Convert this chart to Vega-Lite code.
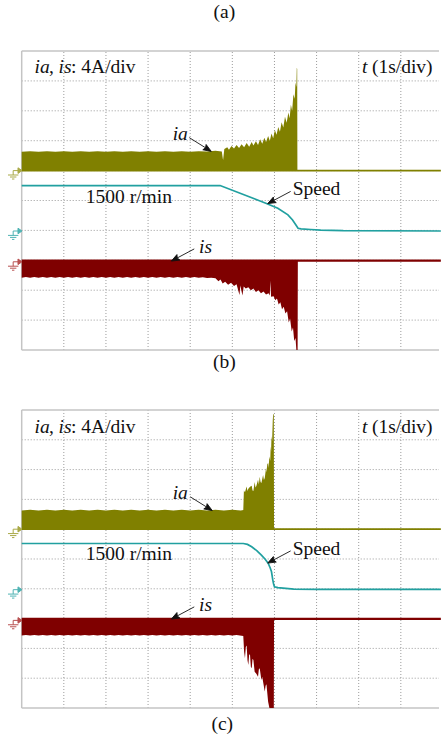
{
"$schema": "https://vega.github.io/schema/vega-lite/v6.json",
"width": 445, "height": 738,
"autosize": {"type": "fit", "contains": "padding"},
"padding": 0,
"background": "white",
"config": {"view": {"stroke": null}},
"datasets": {
"grid_t": [{"t":1},{"t":2},{"t":3},{"t":4},{"t":5},{"t":6},{"t":7},{"t":8},{"t":9}],
"grid_v": [{"v":-4},{"v":-3},{"v":-2},{"v":-1},{"v":0},{"v":1},{"v":2},{"v":3},{"v":4}],
"frame_v": [{"v":-5},{"v":5}],
"b_ia": [{"t":0,"v":1.63},{"t":0.2,"v":1.65},{"t":0.4,"v":1.63},{"t":0.6,"v":1.65},{"t":0.8,"v":1.63},{"t":1.0,"v":1.65},{"t":1.2,"v":1.63},{"t":1.4,"v":1.65},{"t":1.6,"v":1.63},{"t":1.8,"v":1.65},{"t":2.0,"v":1.63},{"t":2.2,"v":1.65},{"t":2.4,"v":1.63},{"t":2.6,"v":1.65},{"t":2.8,"v":1.63},{"t":3.0,"v":1.65},{"t":3.2,"v":1.63},{"t":3.4,"v":1.65},{"t":3.6,"v":1.63},{"t":3.8,"v":1.65},{"t":4.0,"v":1.63},{"t":4.2,"v":1.65},{"t":4.4,"v":1.64},{"t":4.6,"v":1.66},{"t":4.75,"v":1.64},{"t":4.78,"v":1.35},{"t":4.81,"v":1.72},{"t":4.88,"v":1.78},{"t":4.92,"v":1.70},{"t":4.98,"v":1.82},{"t":5.04,"v":1.74},{"t":5.10,"v":1.86},{"t":5.16,"v":1.76},{"t":5.22,"v":1.88},{"t":5.28,"v":1.78},{"t":5.34,"v":1.92},{"t":5.40,"v":1.80},{"t":5.46,"v":1.96},{"t":5.50,"v":1.84},{"t":5.56,"v":1.98},{"t":5.61,"v":1.86},{"t":5.66,"v":2.05},{"t":5.71,"v":1.90},{"t":5.76,"v":2.10},{"t":5.80,"v":1.96},{"t":5.85,"v":2.16},{"t":5.89,"v":2.00},{"t":5.93,"v":2.24},{"t":5.97,"v":2.08},{"t":6.01,"v":2.36},{"t":6.05,"v":2.20},{"t":6.09,"v":2.46},{"t":6.13,"v":2.30},{"t":6.17,"v":2.62},{"t":6.21,"v":2.44},{"t":6.25,"v":2.80},{"t":6.29,"v":2.60},{"t":6.33,"v":2.94},{"t":6.36,"v":2.75},{"t":6.39,"v":3.20},{"t":6.42,"v":3.00},{"t":6.45,"v":3.55},{"t":6.48,"v":3.40},{"t":6.50,"v":3.95},{"t":6.52,"v":3.80},{"t":6.53,"v":4.44},{"t":6.54,"v":4.40},{"t":6.545,"v":1.03},{"t":9.95,"v":1.03}],
"b_is": [{"t":0,"v":-2.58},{"t":0.1,"v":-2.56},{"t":0.2,"v":-2.58},{"t":0.3,"v":-2.56},{"t":0.4,"v":-2.58},{"t":0.5,"v":-2.56},{"t":0.6,"v":-2.58},{"t":0.7,"v":-2.56},{"t":0.8,"v":-2.58},{"t":0.9,"v":-2.56},{"t":1.0,"v":-2.58},{"t":1.1,"v":-2.56},{"t":1.2,"v":-2.58},{"t":1.3,"v":-2.56},{"t":1.4,"v":-2.58},{"t":1.5,"v":-2.56},{"t":1.6,"v":-2.58},{"t":1.7,"v":-2.56},{"t":1.8,"v":-2.58},{"t":1.9,"v":-2.56},{"t":2.0,"v":-2.58},{"t":2.1,"v":-2.56},{"t":2.2,"v":-2.58},{"t":2.3,"v":-2.56},{"t":2.4,"v":-2.58},{"t":2.5,"v":-2.56},{"t":2.6,"v":-2.58},{"t":2.7,"v":-2.56},{"t":2.8,"v":-2.58},{"t":2.9,"v":-2.56},{"t":3.0,"v":-2.58},{"t":3.1,"v":-2.56},{"t":3.2,"v":-2.58},{"t":3.3,"v":-2.56},{"t":3.4,"v":-2.58},{"t":3.5,"v":-2.56},{"t":3.6,"v":-2.58},{"t":3.7,"v":-2.56},{"t":3.8,"v":-2.58},{"t":3.9,"v":-2.56},{"t":4.0,"v":-2.58},{"t":4.1,"v":-2.56},{"t":4.2,"v":-2.58},{"t":4.3,"v":-2.57},{"t":4.4,"v":-2.59},{"t":4.5,"v":-2.58},{"t":4.6,"v":-2.6},{"t":4.67,"v":-2.7},{"t":4.72,"v":-2.64},{"t":4.77,"v":-2.78},{"t":4.83,"v":-2.72},{"t":4.9,"v":-2.82},{"t":4.97,"v":-2.75},{"t":5.04,"v":-2.86},{"t":5.1,"v":-2.8},{"t":5.17,"v":-3.16},{"t":5.19,"v":-2.84},{"t":5.24,"v":-3.18},{"t":5.27,"v":-2.88},{"t":5.32,"v":-2.94},{"t":5.38,"v":-2.9},{"t":5.44,"v":-3.0},{"t":5.5,"v":-2.94},{"t":5.56,"v":-3.06},{"t":5.62,"v":-3.0},{"t":5.68,"v":-3.1},{"t":5.74,"v":-3.04},{"t":5.8,"v":-3.14},{"t":5.86,"v":-3.1},{"t":5.89,"v":-3.18},{"t":5.9,"v":-2.68},{"t":5.92,"v":-3.22},{"t":5.98,"v":-3.2},{"t":6.02,"v":-3.34},{"t":6.06,"v":-3.28},{"t":6.1,"v":-3.48},{"t":6.14,"v":-3.4},{"t":6.18,"v":-3.64},{"t":6.22,"v":-3.55},{"t":6.26,"v":-3.78},{"t":6.3,"v":-3.7},{"t":6.34,"v":-4.08},{"t":6.37,"v":-3.95},{"t":6.41,"v":-4.38},{"t":6.44,"v":-4.25},{"t":6.47,"v":-4.7},{"t":6.5,"v":-4.6},{"t":6.52,"v":-5.0},{"t":6.55,"v":-5.0},{"t":6.555,"v":-2.05},{"t":9.95,"v":-2.05}],
"b_sp": [{"t":0,"v":0.5},{"t":4.71,"v":0.5},{"t":5.81,"v":-0.1},{"t":6.08,"v":-0.26},{"t":6.32,"v":-0.48},{"t":6.43,"v":-0.65},{"t":6.51,"v":-0.82},{"t":6.56,"v":-0.93},{"t":6.63,"v":-0.95},{"t":6.86,"v":-0.97},{"t":7.1,"v":-0.99},{"t":7.63,"v":-1.01},{"t":9.95,"v":-1.02}],
"c_ia": [{"t":0,"v":1.63},{"t":0.2,"v":1.65},{"t":0.4,"v":1.63},{"t":0.6,"v":1.65},{"t":0.8,"v":1.63},{"t":1.0,"v":1.65},{"t":1.2,"v":1.63},{"t":1.4,"v":1.65},{"t":1.6,"v":1.63},{"t":1.8,"v":1.65},{"t":2.0,"v":1.63},{"t":2.2,"v":1.65},{"t":2.4,"v":1.63},{"t":2.6,"v":1.65},{"t":2.8,"v":1.63},{"t":3.0,"v":1.65},{"t":3.2,"v":1.63},{"t":3.4,"v":1.65},{"t":3.6,"v":1.63},{"t":3.8,"v":1.65},{"t":4.0,"v":1.63},{"t":4.2,"v":1.65},{"t":4.4,"v":1.63},{"t":4.6,"v":1.65},{"t":4.8,"v":1.63},{"t":5.0,"v":1.65},{"t":5.2,"v":1.63},{"t":5.26,"v":1.64},{"t":5.275,"v":2.3},{"t":5.3,"v":2.24},{"t":5.34,"v":2.43},{"t":5.36,"v":2.28},{"t":5.38,"v":2.36},{"t":5.42,"v":2.42},{"t":5.46,"v":2.46},{"t":5.48,"v":2.3},{"t":5.5,"v":2.28},{"t":5.53,"v":2.58},{"t":5.55,"v":2.4},{"t":5.57,"v":2.45},{"t":5.61,"v":2.66},{"t":5.63,"v":2.5},{"t":5.65,"v":2.76},{"t":5.67,"v":2.58},{"t":5.69,"v":2.55},{"t":5.73,"v":2.82},{"t":5.75,"v":2.65},{"t":5.77,"v":2.72},{"t":5.8,"v":3.05},{"t":5.81,"v":2.9},{"t":5.83,"v":3.18},{"t":5.85,"v":3.22},{"t":5.86,"v":3.05},{"t":5.88,"v":3.44},{"t":5.9,"v":3.3},{"t":5.91,"v":3.78},{"t":5.92,"v":3.6},{"t":5.93,"v":4.12},{"t":5.945,"v":3.95},{"t":5.96,"v":4.66},{"t":5.97,"v":4.86},{"t":5.985,"v":4.86},{"t":5.99,"v":1.03},{"t":9.95,"v":1.03}],
"c_is": [{"t":0,"v":-2.57},{"t":0.1,"v":-2.55},{"t":0.2,"v":-2.57},{"t":0.3,"v":-2.55},{"t":0.4,"v":-2.57},{"t":0.5,"v":-2.55},{"t":0.6,"v":-2.57},{"t":0.7,"v":-2.55},{"t":0.8,"v":-2.57},{"t":0.9,"v":-2.55},{"t":1.0,"v":-2.57},{"t":1.1,"v":-2.55},{"t":1.2,"v":-2.57},{"t":1.3,"v":-2.55},{"t":1.4,"v":-2.57},{"t":1.5,"v":-2.55},{"t":1.6,"v":-2.57},{"t":1.7,"v":-2.55},{"t":1.8,"v":-2.57},{"t":1.9,"v":-2.55},{"t":2.0,"v":-2.57},{"t":2.1,"v":-2.55},{"t":2.2,"v":-2.57},{"t":2.3,"v":-2.55},{"t":2.4,"v":-2.57},{"t":2.5,"v":-2.55},{"t":2.6,"v":-2.57},{"t":2.7,"v":-2.55},{"t":2.8,"v":-2.57},{"t":2.9,"v":-2.55},{"t":3.0,"v":-2.57},{"t":3.1,"v":-2.55},{"t":3.2,"v":-2.57},{"t":3.3,"v":-2.55},{"t":3.4,"v":-2.57},{"t":3.5,"v":-2.55},{"t":3.6,"v":-2.57},{"t":3.7,"v":-2.55},{"t":3.8,"v":-2.57},{"t":3.9,"v":-2.55},{"t":4.0,"v":-2.57},{"t":4.1,"v":-2.55},{"t":4.2,"v":-2.57},{"t":4.3,"v":-2.55},{"t":4.4,"v":-2.57},{"t":4.5,"v":-2.55},{"t":4.6,"v":-2.57},{"t":4.7,"v":-2.55},{"t":4.8,"v":-2.57},{"t":4.9,"v":-2.55},{"t":5.0,"v":-2.57},{"t":5.1,"v":-2.55},{"t":5.26,"v":-2.58},{"t":5.28,"v":-3.11},{"t":5.3,"v":-3.33},{"t":5.32,"v":-2.95},{"t":5.34,"v":-2.9},{"t":5.36,"v":-3.4},{"t":5.38,"v":-3.56},{"t":5.4,"v":-3.2},{"t":5.42,"v":-3.22},{"t":5.44,"v":-3.62},{"t":5.46,"v":-3.67},{"t":5.48,"v":-3.35},{"t":5.5,"v":-3.39},{"t":5.53,"v":-3.78},{"t":5.57,"v":-3.85},{"t":5.61,"v":-3.95},{"t":5.63,"v":-3.7},{"t":5.65,"v":-3.67},{"t":5.69,"v":-4.06},{"t":5.71,"v":-3.95},{"t":5.73,"v":-4.12},{"t":5.77,"v":-4.45},{"t":5.79,"v":-4.25},{"t":5.81,"v":-4.2},{"t":5.85,"v":-4.79},{"t":5.88,"v":-5.0},{"t":5.985,"v":-5.0},{"t":5.99,"v":-2.05},{"t":9.95,"v":-2.05}],
"c_sp": [{"t":0,"v":0.52},{"t":5.26,"v":0.52},{"t":5.36,"v":0.49},{"t":5.46,"v":0.41},{"t":5.58,"v":0.28},{"t":5.69,"v":0.13},{"t":5.78,"v":-0.01},{"t":5.85,"v":-0.14},{"t":5.9,"v":-0.3},{"t":5.93,"v":-0.43},{"t":5.96,"v":-0.7},{"t":5.98,"v":-0.84},{"t":6.0,"v":-0.93},{"t":6.08,"v":-0.96},{"t":6.46,"v":-1.01},{"t":7.02,"v":-1.02},{"t":9.95,"v":-1.02}],
"gnd_b": [{"sig":"ia","v":1.0},{"sig":"speed","v":-1.02},{"sig":"is","v":-2.05}],
"gnd_c": [{"sig":"ia","v":1.0},{"sig":"speed","v":-1.03},{"sig":"is","v":-2.06}],
"it_b": [{"t":0.304,"v":4.264,"text":"ia"},{"t":0.874,"v":4.264,"text":"is"},{"t":8.08,"v":4.264,"text":"t"},{"t":3.583,"v":2.023,"text":"ia"},{"t":4.208,"v":-1.766,"text":"is"}],
"rm_b": [{"t":0.651,"v":4.264,"text":","},{"t":1.171,"v":4.264,"text":": 4A/div"},{"t":8.314,"v":4.264,"text":"(1s/div)"},{"t":1.522,"v":-0.084,"text":"1500 r/min"},{"t":6.433,"v":0.184,"text":"Speed"}],
"it_c": [{"t":0.304,"v":4.238,"text":"ia"},{"t":0.874,"v":4.238,"text":"is"},{"t":8.08,"v":4.238,"text":"t"},{"t":3.583,"v":2.013,"text":"ia"},{"t":4.208,"v":-1.745,"text":"is"}],
"rm_c": [{"t":0.651,"v":4.238,"text":","},{"t":1.171,"v":4.238,"text":": 4A/div"},{"t":8.314,"v":4.238,"text":"(1s/div)"},{"t":1.522,"v":-0.034,"text":"1500 r/min"},{"t":6.433,"v":0.134,"text":"Speed"}],
"lab_b": [{"t":4.813,"v":6.304,"text":"(a)"},{"t":4.813,"v":-5.385,"text":"(b)"}],
"lab_c": [{"t":4.76,"v":-5.537,"text":"(c)"}],
"ar_b_r": [{"t":4.239,"v":1.873}],
"ar_b_l": [{"t":6.112,"v":0.1},{"t":3.824,"v":-1.823}],
"ar_c_r": [{"t":4.262,"v":1.856}],
"ar_c_l": [{"t":6.112,"v":0.067},{"t":3.824,"v":-1.812}]
},
"resolve": {"scale": {"y": "independent"}},
"layer": [
{
"layer": [
{"data": {"name": "grid_t"}, "mark": {"type": "rule", "color": "#9a9a9a", "strokeWidth": 1, "strokeDash": [1, 2]}, "encoding": {"x": {"field": "t", "type": "quantitative", "scale": {"domain": [-0.515, 9.906], "nice": false, "zero": false}, "axis": null}, "y": {"datum": -5, "type": "quantitative", "scale": {"domain": [-17.977, 6.706], "nice": false, "zero": false}, "axis": null}, "y2": {"datum": 5}}},
{"data": {"name": "grid_v"}, "mark": {"type": "rule", "color": "#9a9a9a", "strokeWidth": 1, "strokeDash": [1, 2]}, "encoding": {"x": {"datum": 0, "type": "quantitative"}, "x2": {"datum": 9.906}, "y": {"field": "v", "type": "quantitative"}}},
{"data": {"name": "frame_v"}, "mark": {"type": "rule", "color": "#c4c4c4", "strokeWidth": 1.5}, "encoding": {"x": {"datum": 0, "type": "quantitative"}, "x2": {"datum": 9.906}, "y": {"field": "v", "type": "quantitative"}}},
{"data": {"name": "lab_c"}, "mark": {"type": "rule", "color": "#c4c4c4", "strokeWidth": 1.5}, "encoding": {"x": {"datum": 0, "type": "quantitative"}, "y": {"datum": -5, "type": "quantitative"}, "y2": {"datum": 5}}},
{"data": {"name": "b_ia"}, "mark": {"type": "area", "color": "#808000"}, "encoding": {"x": {"field": "t", "type": "quantitative"}, "y": {"field": "v", "type": "quantitative"}, "y2": {"datum": 0.97}}},
{"data": {"name": "b_is"}, "mark": {"type": "area", "color": "#7f0000"}, "encoding": {"x": {"field": "t", "type": "quantitative"}, "y": {"field": "v", "type": "quantitative"}, "y2": {"datum": -1.97}}},
{"data": {"name": "b_sp"}, "mark": {"type": "line", "color": "#21a0a0", "strokeWidth": 1.7}, "encoding": {"x": {"field": "t", "type": "quantitative"}, "y": {"field": "v", "type": "quantitative"}}},
{"data": {"name": "gnd_b"}, "mark": {"type": "point", "shape": "M-0.2,0L0.55,0M0.4,-0.35L0.9,0L0.4,0.35ZM-0.2,0L-0.2,0.55M-0.85,0.55L0.45,0.55M-0.6,0.8L0.2,0.8M-0.35,1.05L-0.05,1.05", "size": 256, "filled": true, "strokeWidth": 1, "opacity": 1},
 "encoding": {"x": {"datum": -0.164, "type": "quantitative"}, "y": {"field": "v", "type": "quantitative"},
  "fill": {"field": "sig", "type": "nominal", "scale": {"domain": ["ia", "speed", "is"], "range": ["#a9a946", "#4fb3b3", "#b85050"]}, "legend": null},
  "stroke": {"field": "sig", "type": "nominal", "scale": {"domain": ["ia", "speed", "is"], "range": ["#a9a946", "#4fb3b3", "#b85050"]}, "legend": null}}},
{"data": {"name": "ar_b_r"}, "mark": {"type": "point", "shape": "M-1,0L0.5,0M1,0L0.38,-0.24L0.48,0L0.38,0.24Z", "size": 676, "angle": 32, "filled": true, "color": "#111", "stroke": "#111", "strokeWidth": 0.8, "opacity": 1}, "encoding": {"x": {"field": "t", "type": "quantitative"}, "y": {"field": "v", "type": "quantitative"}}},
{"data": {"name": "ar_b_l"}, "mark": {"type": "point", "shape": "M-1,0L0.5,0M1,0L0.38,-0.24L0.48,0L0.38,0.24Z", "size": 676, "angle": 152, "filled": true, "color": "#111", "stroke": "#111", "strokeWidth": 0.8, "opacity": 1}, "encoding": {"x": {"field": "t", "type": "quantitative"}, "y": {"field": "v", "type": "quantitative"}}},
{"data": {"name": "it_b"}, "mark": {"type": "text", "align": "left", "baseline": "alphabetic", "fontStyle": "italic", "font": "Times New Roman, Liberation Serif, serif", "fontSize": 19.5, "color": "#111"}, "encoding": {"x": {"field": "t", "type": "quantitative"}, "y": {"field": "v", "type": "quantitative"}, "text": {"field": "text"}}},
{"data": {"name": "rm_b"}, "mark": {"type": "text", "align": "left", "baseline": "alphabetic", "font": "Times New Roman, Liberation Serif, serif", "fontSize": 19.5, "color": "#111"}, "encoding": {"x": {"field": "t", "type": "quantitative"}, "y": {"field": "v", "type": "quantitative"}, "text": {"field": "text"}}},
{"data": {"name": "lab_b"}, "mark": {"type": "text", "align": "center", "baseline": "middle", "font": "Times New Roman, Liberation Serif, serif", "fontSize": 19.5, "color": "#111"}, "encoding": {"x": {"field": "t", "type": "quantitative"}, "y": {"field": "v", "type": "quantitative"}, "text": {"field": "text"}}}
]
},
{
"layer": [
{"data": {"name": "grid_t"}, "mark": {"type": "rule", "color": "#9a9a9a", "strokeWidth": 1, "strokeDash": [1, 2]}, "encoding": {"x": {"field": "t", "type": "quantitative", "scale": {"domain": [-0.515, 9.906], "nice": false, "zero": false}, "axis": null}, "y": {"datum": -5, "type": "quantitative", "scale": {"domain": [-6.007, 18.758], "nice": false, "zero": false}, "axis": null}, "y2": {"datum": 5}}},
{"data": {"name": "grid_v"}, "mark": {"type": "rule", "color": "#9a9a9a", "strokeWidth": 1, "strokeDash": [1, 2]}, "encoding": {"x": {"datum": 0, "type": "quantitative"}, "x2": {"datum": 9.906}, "y": {"field": "v", "type": "quantitative"}}},
{"data": {"name": "frame_v"}, "mark": {"type": "rule", "color": "#c4c4c4", "strokeWidth": 1.5}, "encoding": {"x": {"datum": 0, "type": "quantitative"}, "x2": {"datum": 9.906}, "y": {"field": "v", "type": "quantitative"}}},
{"data": {"name": "lab_c"}, "mark": {"type": "rule", "color": "#c4c4c4", "strokeWidth": 1.5}, "encoding": {"x": {"datum": 0, "type": "quantitative"}, "y": {"datum": -5, "type": "quantitative"}, "y2": {"datum": 5}}},
{"data": {"name": "c_ia"}, "mark": {"type": "area", "color": "#808000"}, "encoding": {"x": {"field": "t", "type": "quantitative"}, "y": {"field": "v", "type": "quantitative"}, "y2": {"datum": 0.97}}},
{"data": {"name": "c_is"}, "mark": {"type": "area", "color": "#7f0000"}, "encoding": {"x": {"field": "t", "type": "quantitative"}, "y": {"field": "v", "type": "quantitative"}, "y2": {"datum": -1.97}}},
{"data": {"name": "c_sp"}, "mark": {"type": "line", "color": "#21a0a0", "strokeWidth": 1.7}, "encoding": {"x": {"field": "t", "type": "quantitative"}, "y": {"field": "v", "type": "quantitative"}}},
{"data": {"name": "gnd_c"}, "mark": {"type": "point", "shape": "M-0.2,0L0.55,0M0.4,-0.35L0.9,0L0.4,0.35ZM-0.2,0L-0.2,0.55M-0.85,0.55L0.45,0.55M-0.6,0.8L0.2,0.8M-0.35,1.05L-0.05,1.05", "size": 256, "filled": true, "strokeWidth": 1, "opacity": 1},
 "encoding": {"x": {"datum": -0.164, "type": "quantitative"}, "y": {"field": "v", "type": "quantitative"},
  "fill": {"field": "sig", "type": "nominal", "scale": {"domain": ["ia", "speed", "is"], "range": ["#a9a946", "#4fb3b3", "#b85050"]}, "legend": null},
  "stroke": {"field": "sig", "type": "nominal", "scale": {"domain": ["ia", "speed", "is"], "range": ["#a9a946", "#4fb3b3", "#b85050"]}, "legend": null}}},
{"data": {"name": "ar_c_r"}, "mark": {"type": "point", "shape": "M-1,0L0.5,0M1,0L0.38,-0.24L0.48,0L0.38,0.24Z", "size": 676, "angle": 32, "filled": true, "color": "#111", "stroke": "#111", "strokeWidth": 0.8, "opacity": 1}, "encoding": {"x": {"field": "t", "type": "quantitative"}, "y": {"field": "v", "type": "quantitative"}}},
{"data": {"name": "ar_c_l"}, "mark": {"type": "point", "shape": "M-1,0L0.5,0M1,0L0.38,-0.24L0.48,0L0.38,0.24Z", "size": 676, "angle": 152, "filled": true, "color": "#111", "stroke": "#111", "strokeWidth": 0.8, "opacity": 1}, "encoding": {"x": {"field": "t", "type": "quantitative"}, "y": {"field": "v", "type": "quantitative"}}},
{"data": {"name": "it_c"}, "mark": {"type": "text", "align": "left", "baseline": "alphabetic", "fontStyle": "italic", "font": "Times New Roman, Liberation Serif, serif", "fontSize": 19.5, "color": "#111"}, "encoding": {"x": {"field": "t", "type": "quantitative"}, "y": {"field": "v", "type": "quantitative"}, "text": {"field": "text"}}},
{"data": {"name": "rm_c"}, "mark": {"type": "text", "align": "left", "baseline": "alphabetic", "font": "Times New Roman, Liberation Serif, serif", "fontSize": 19.5, "color": "#111"}, "encoding": {"x": {"field": "t", "type": "quantitative"}, "y": {"field": "v", "type": "quantitative"}, "text": {"field": "text"}}},
{"data": {"name": "lab_c"}, "mark": {"type": "text", "align": "center", "baseline": "middle", "font": "Times New Roman, Liberation Serif, serif", "fontSize": 19.5, "color": "#111"}, "encoding": {"x": {"field": "t", "type": "quantitative"}, "y": {"field": "v", "type": "quantitative"}, "text": {"field": "text"}}}
]
}
]
}
